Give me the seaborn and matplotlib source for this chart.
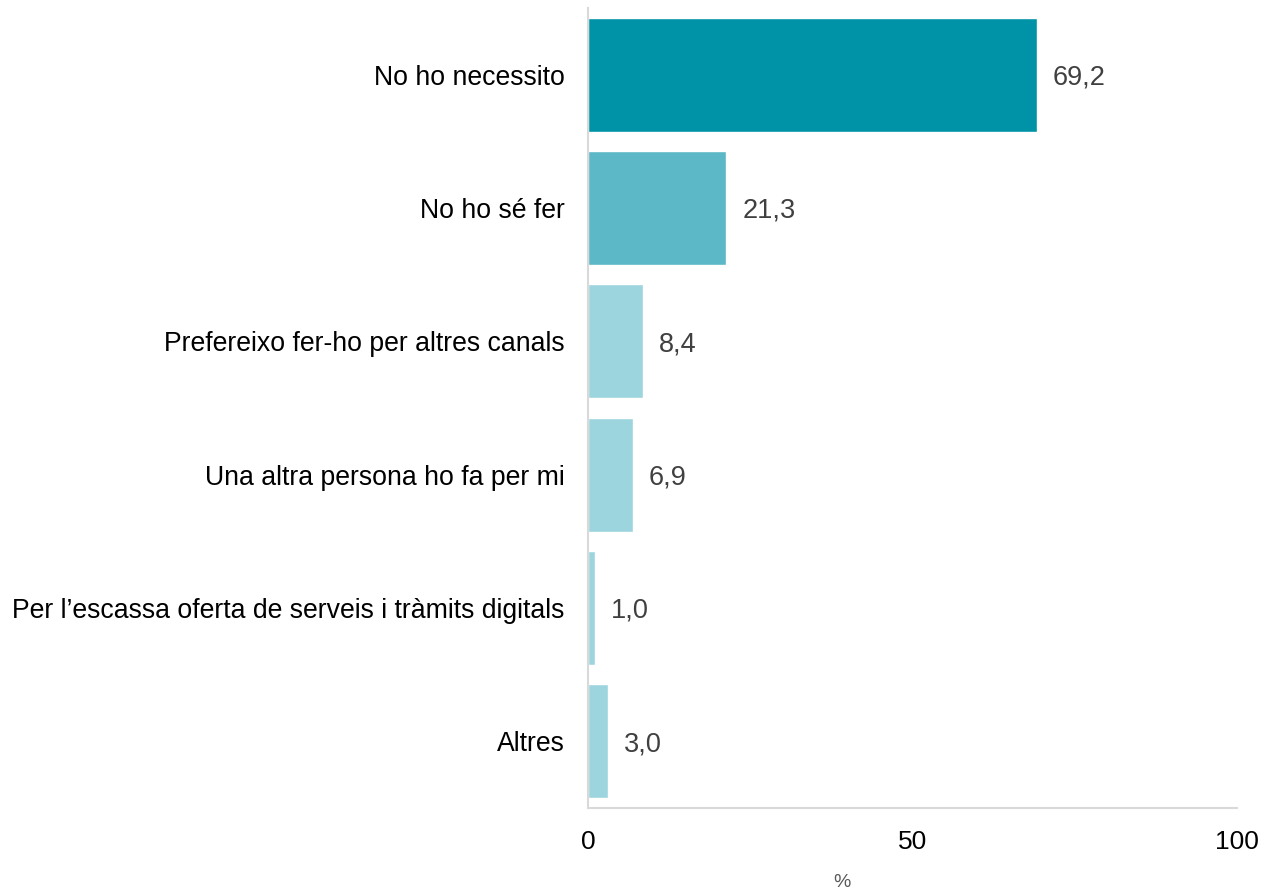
import matplotlib
matplotlib.use("Agg")
import matplotlib.pyplot as plt
import seaborn as sns
import pandas as pd

# dades
categories = [
    "No ho necessito",
    "No ho sé fer",
    "Prefereixo fer-ho per altres canals",
    "Una altra persona ho fa per mi",
    "Per l\u2019escassa oferta de serveis i tràmits digitals",
    "Altres",
]
values = [69.2, 21.3, 8.4, 6.9, 1.0, 3.0]
bar_colors = ["#0093A7", "#5CB7C6", "#9DD5DE", "#9DD5DE", "#9DD5DE", "#9DD5DE"]
x_ticks = [0, 50, 100]

sns.set_style("white")
plt.rcParams['font.family'] = ['Liberation Sans', 'DejaVu Sans']

df = pd.DataFrame({"cat": categories, "val": values})

fig = plt.figure(figsize=(12.62, 8.93), dpi=100)
ax = fig.add_axes([0.466, 0.0952, 0.514, 0.896])

sns.barplot(data=df, x="val", y="cat", hue="cat", palette=bar_colors,
            saturation=1, width=0.855, legend=False, orient="h", ax=ax)

for i, v in enumerate(values):
    ax.annotate(f"{v:.1f}".replace(".", ","), xy=(v, i), xytext=(11.5, -2),
                textcoords="offset points", va="center", ha="left",
                fontsize=19.5, color="#404040")

ax.set_xlim(0, 100)
ax.set_ylim(5.5, -0.5)
ax.set_xticks(x_ticks)
ax.set_xticklabels([str(t) for t in x_ticks])
ax.tick_params(axis="x", length=0, labelsize=19, pad=16, labelcolor="black")
ax.tick_params(axis="y", length=0, labelsize=19.2, pad=17, labelcolor="black")
ax.set_ylabel("")
ax.set_xlabel("%", fontsize=14, color="#595959")
ax.xaxis.set_label_coords(0.391, -0.083)

sns.despine(ax=ax, top=True, right=True)
for side in ["left", "bottom"]:
    ax.spines[side].set_color("#D9D9D9")
    ax.spines[side].set_linewidth(1.5)

fig.savefig("out.png", dpi=100, facecolor="white")
